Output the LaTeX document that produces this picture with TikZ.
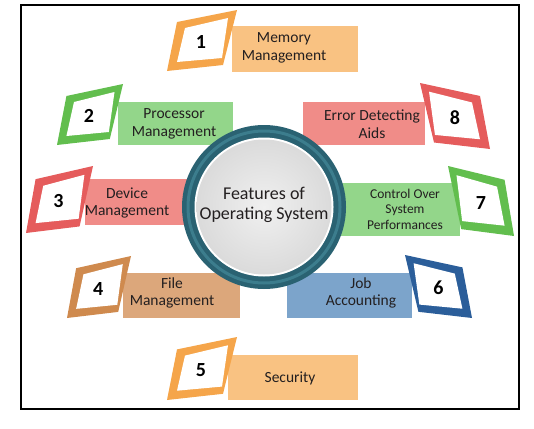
\documentclass[tikz,border=0pt]{standalone}
\usepackage{fontspec}
\setmainfont{Carlito}
\definecolor{orF}{HTML}{F5A54A}
\definecolor{orB}{HTML}{F9C282}
\definecolor{grF}{HTML}{62BE4E}
\definecolor{grB}{HTML}{93D68A}
\definecolor{rdF}{HTML}{E55C5C}
\definecolor{rdB}{HTML}{F08C88}
\definecolor{brF}{HTML}{CF8A4E}
\definecolor{brB}{HTML}{DCA77B}
\definecolor{blF}{HTML}{2B5E9A}
\definecolor{blB}{HTML}{7CA4CB}
\definecolor{ringc}{HTML}{2A6272}
\definecolor{ringl}{HTML}{3C7D8D}
\definecolor{discc}{HTML}{E6E6E6}
\definecolor{txtc}{HTML}{231F20}
\tikzset{
  numtxt/.style={font=\fontsize{20}{20}\selectfont\bfseries, text=black, inner sep=0pt},
  bartxt/.style={font=\fontsize{15.5}{17.5}\selectfont, text=txtc, align=center, inner sep=0pt},
  smalltxt/.style={font=\fontsize{13.5}{15.5}\selectfont, text=txtc, align=center, inner sep=0pt},
  centertxt/.style={font=\fontsize{18}{20.5}\selectfont, text=txtc, align=center, inner sep=0pt},
}
% left-leaning frame: origin x,y, width, height, colour, number, name
\newcommand\lfrm[7]{%
  \begin{scope}[shift={(#1,#2)},xscale=#3/70,yscale=#4/61]
    \fill[#5] (10,12)--(70,0)--(56,55)--(0,61)--cycle;
    \fill[white] (18,18)--(61,8)--(55,48)--(10,52)--cycle;
    \node[numtxt] (#7) at (34,32) {#6};
  \end{scope}}
% right-leaning (mirrored) frame
\newcommand\rfrm[7]{%
  \begin{scope}[shift={(#1,#2)},xscale=#3/70,yscale=#4/61]
    \fill[#5] (60,12)--(0,0)--(14,55)--(70,61)--cycle;
    \fill[white] (52,18)--(9,8)--(15,48)--(60,52)--cycle;
    \node[numtxt] (#7) at (35,32) {#6};
  \end{scope}}
\begin{document}
\begin{tikzpicture}[x=1pt,y=-1pt]
\useasboundingbox (0,0) rectangle (534,428);
\draw[line width=1.2pt] (21,5) rectangle (519,409);
% bars
\fill[orB] (232,26) rectangle (358,72);
\fill[grB] (118,102) rectangle (233,145);
\fill[rdB] (85,179) rectangle (230,225);
\fill[brB] (123,273) rectangle (240,318);
\fill[orB] (228,355) rectangle (358,400);
\fill[blB] (287,273) rectangle (412,318);
\fill[grB] (300,183) rectangle (460,236);
\fill[rdB] (303,102) rectangle (425,145);
% frames
\lfrm{167}{10}{70}{61}{orF}{1}{n1}
\lfrm{57}{84}{66}{61}{grF}{2}{n2}
\lfrm{26}{166}{67}{67}{rdF}{3}{n3}
\lfrm{67}{256}{64}{62}{brF}{4}{n4}
\lfrm{167}{337}{70}{63}{orF}{5}{n5}
\rfrm{405}{255}{67}{63}{blF}{6}{n6}
\rfrm{448}{166}{66}{70}{grF}{7}{n7}
\rfrm{420}{83}{70}{66}{rdF}{8}{n8}
% labels
\node[bartxt] (t1) at (284,48) {Memory\\Management};
\node[bartxt] (t2) at (174,124) {Processor\\Management};
\node[bartxt] (t3) at (127,203) {Device\\Management};
\node[bartxt] (t4) at (172,293) {File\\Management};
\node[bartxt] (t5) at (290,378) {Security};
\node[bartxt] (t6) at (361,293) {Job\\Accounting};
\node[smalltxt] (t7) at (405,209) {Control Over\\System\\Performances};
\node[bartxt] (t8) at (372,124) {Error Detecting\\Aids};
% central circle
\fill[ringc] (264,207) circle[radius=82];
\draw[ringl, line width=3pt] (264,207) circle[radius=76];
\fill[white] (264,207) circle[radius=69.5];
\shade[inner color=discc!60, outer color=discc!95!black] (264,207) circle[radius=67.5];
\node[centertxt] (c) at (264,205) {Features of\\Operating System};
\end{tikzpicture}
\end{document}
